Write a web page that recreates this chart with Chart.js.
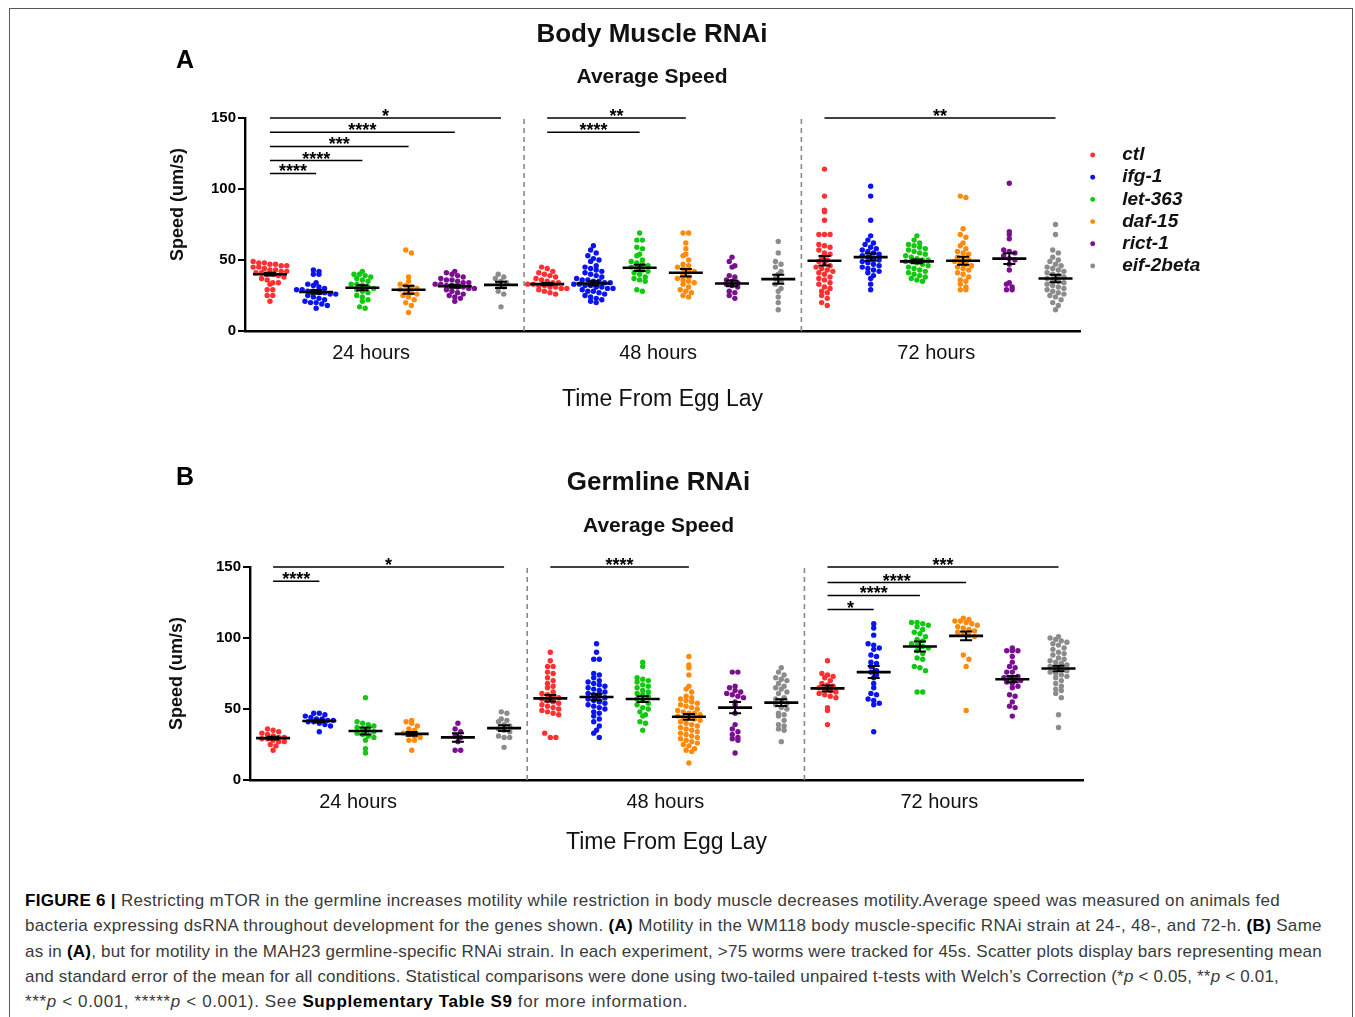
<!DOCTYPE html>
<html>
<head>
<meta charset="utf-8">
<script src="https://cdn.jsdelivr.net/npm/chart.js@4.4.1/dist/chart.umd.min.js"></script>
<style>
  html, body { margin: 0; padding: 0; background: #fff; }
  #page { position: relative; width: 1355px; height: 1017px; overflow: hidden; font-family: 'Liberation Sans', Arial, sans-serif; }
  #frame { position: absolute; left: 9px; top: 8px; width: 1344px; height: 1100px; border: 1px solid #5a5a5a; box-sizing: border-box; }
  canvas { position: absolute; left: 0; }
  #chartA { top: 0; }
  #chartB { top: 449px; }
  .panel-letter { position: absolute; left: 176px; font-weight: bold; font-size: 25px; line-height: 30px; color: #000; }
  #caption { position: absolute; left: 25px; top: 888px; font-size: 17px; line-height: 25.3px; color: #3a3a3a; }
  #caption .ln { display: block; width: max-content; white-space: nowrap; }
  #caption b { color: #000; }
</style>
</head>
<body>
<div id="page">
  <div id="frame"></div>
  <canvas id="chartA" width="1355" height="431"></canvas>
  <canvas id="chartB" width="1355" height="431"></canvas>
  <div class="panel-letter" style="top:44px">A</div>
  <div class="panel-letter" style="top:461px">B</div>
  <div id="caption">
    <span class="ln" data-w="1255"><b>FIGURE 6 |</b> Restricting mTOR in the germline increases motility while restriction in body muscle decreases motility.Average speed was measured on animals fed</span>
    <span class="ln" data-w="1297">bacteria expressing dsRNA throughout development for the genes shown. <b>(A)</b> Motility in the WM118 body muscle-specific RNAi strain at 24-, 48-, and 72-h. <b>(B)</b> Same</span>
    <span class="ln" data-w="1297">as in <b>(A)</b>, but for motility in the MAH23 germline-specific RNAi strain. In each experiment, &gt;75 worms were tracked for 45s. Scatter plots display bars representing mean</span>
    <span class="ln" data-w="1254">and standard error of the mean for all conditions. Statistical comparisons were done using two-tailed unpaired t-tests with Welch’s Correction (*<i>p</i> &lt; 0.05, **<i>p</i> &lt; 0.01,</span>
    <span class="ln" data-w="663">***<i>p</i> &lt; 0.001, *****<i>p</i> &lt; 0.001). See <b>Supplementary Table S9</b> for more information.</span>
  </div>
</div>
<script>
// ---- data ----
const genes = ['ctl', 'ifg-1', 'let-363', 'daf-15', 'rict-1', 'eif-2beta'];
const timeLabels = ['24 hours', '48 hours', '72 hours'];

// A: body muscle RNAi, speed (um/s) per worm at 24h / 48h / 72h
const muscleCtl = [
  [49, 48, 48, 47, 47, 46, 46, 45, 45, 44, 43, 43, 42, 42, 41, 41, 40, 40, 39, 38, 37, 36, 34, 34, 33, 29, 29, 25, 25, 21],
  [45, 44, 42, 41, 40, 39, 38, 37, 36, 35, 34, 34, 33, 33, 32, 32, 31, 31, 30, 30, 29, 28, 27, 26],
  [114, 95, 85, 84, 78, 68, 68, 68, 61, 60, 59, 57, 55, 54, 52, 50, 49, 48, 46, 45, 44, 43, 42, 41, 40, 38, 37, 36, 34, 33, 31, 30, 28, 27, 25, 23, 20, 18]
];
const muscleIfg1 = [
  [43, 42, 40, 40, 34, 33, 32, 31, 30, 29, 29, 28, 28, 27, 27, 26, 26, 25, 24, 23, 22, 21, 20, 20, 19, 18, 16],
  [60, 57, 55, 53, 51, 50, 49, 46, 45, 44, 43, 42, 41, 40, 39, 38, 37, 36, 36, 35, 35, 34, 34, 33, 33, 32, 32, 31, 31, 30, 30, 29, 28, 28, 27, 26, 25, 24, 23, 22, 21, 20],
  [102, 95, 78, 67, 64, 62, 61, 59, 58, 57, 56, 55, 54, 53, 52, 51, 50, 49, 48, 47, 46, 45, 44, 43, 42, 41, 39, 37, 33, 29]
];
const muscleLet363 = [
  [42, 40, 40, 39, 38, 37, 36, 35, 33, 33, 32, 31, 30, 29, 28, 27, 25, 24, 22, 21, 17, 16],
  [69, 64, 64, 59, 58, 54, 53, 50, 49, 48, 47, 46, 45, 44, 43, 42, 41, 40, 38, 37, 36, 35, 29, 28],
  [67, 64, 62, 61, 60, 59, 58, 57, 56, 55, 54, 53, 52, 51, 50, 50, 49, 49, 48, 47, 46, 45, 44, 43, 42, 41, 40, 39, 38, 37, 36, 35]
];
const muscleDaf15 = [
  [57, 55, 38, 35, 33, 32, 31, 30, 29, 28, 27, 26, 25, 24, 22, 20, 18, 13],
  [69, 69, 62, 58, 54, 53, 50, 47, 46, 45, 44, 43, 42, 40, 38, 37, 36, 35, 34, 33, 31, 29, 28, 27, 25, 24],
  [95, 94, 72, 68, 66, 62, 60, 58, 56, 55, 54, 52, 51, 50, 49, 48, 47, 46, 45, 44, 43, 41, 40, 38, 36, 35, 33, 31, 29, 29]
];
const muscleRict1 = [
  [42, 41, 40, 39, 38, 37, 36, 36, 35, 34, 34, 33, 33, 32, 32, 31, 31, 30, 30, 29, 28, 27, 26, 25, 24, 23, 21],
  [52, 49, 46, 45, 39, 38, 36, 35, 34, 33, 32, 31, 28, 27, 25, 23],
  [104, 70, 68, 65, 57, 56, 55, 53, 51, 50, 47, 43, 34, 33, 31, 29, 29]
];
const muscleEif2b = [
  [40, 38, 37, 35, 34, 33, 31, 28, 26, 17],
  [63, 55, 49, 47, 45, 42, 40, 37, 35, 33, 30, 28, 24, 20, 15],
  [75, 68, 57, 55, 52, 50, 49, 47, 46, 45, 44, 43, 42, 41, 40, 39, 38, 37, 36, 35, 34, 33, 32, 31, 30, 29, 28, 27, 26, 25, 24, 22, 20, 18, 15]
];
// mean and SEM per time point (rows) and gene (columns)
const muscleMean = [[40, 27.5, 30.5, 29, 31.5, 32.5], [33, 33.5, 44.5, 41, 33.5, 36.5], [49.5, 52, 49, 49.5, 51, 37]];
const muscleSem = [[1, 1.3, 1.8, 2.8, 1, 2.2], [0.8, 1.5, 2.2, 2.6, 2, 3.2], [3.3, 2.5, 1.3, 2.8, 3.8, 2.6]];
// [time block, from gene, to gene, bracket level, stars]
const muscleSig = [
  [0, 0, 5, 150, '*'], [0, 0, 4, 140, '****'], [0, 0, 3, 130, '***'], [0, 0, 2, 120, '****'], [0, 0, 1, 111, '****'],
  [1, 0, 3, 150, '**'], [1, 0, 2, 140, '****'],
  [2, 0, 5, 150, '**']
];

// B: germline RNAi
const germCtl = [
  [36, 35, 34, 33, 32, 31, 30, 30, 29, 29, 28, 27, 27, 25, 24, 21],
  [90, 84, 80, 80, 76, 75, 72, 70, 68, 66, 65, 62, 61, 60, 59, 58, 57, 56, 55, 54, 53, 52, 51, 50, 49, 48, 47, 46, 33, 30, 30],
  [84, 75, 74, 73, 72, 70, 68, 67, 66, 65, 64, 63, 62, 61, 60, 59, 58, 51, 49, 39]
];
const germIfg1 = [
  [47, 47, 46, 45, 44, 43, 43, 42, 42, 41, 41, 40, 39, 38, 34],
  [96, 90, 85, 85, 75, 74, 72, 70, 69, 68, 67, 66, 65, 64, 63, 62, 61, 60, 59, 58, 57, 56, 55, 54, 53, 52, 51, 50, 48, 47, 45, 43, 41, 38, 35, 33, 30],
  [110, 107, 102, 96, 95, 93, 92, 88, 87, 83, 82, 80, 77, 76, 74, 72, 68, 65, 61, 60, 57, 56, 54, 53, 34]
];
const germLet363 = [
  [58, 41, 40, 39, 38, 37, 36, 35, 34, 33, 32, 31, 30, 28, 22, 19],
  [83, 80, 72, 71, 70, 69, 67, 66, 65, 63, 62, 61, 60, 59, 57, 56, 54, 53, 51, 50, 48, 46, 45, 41, 40, 35],
  [111, 111, 110, 109, 108, 106, 104, 103, 101, 99, 98, 96, 95, 94, 93, 91, 89, 86, 85, 80, 79, 77, 62, 62]
];
const germDaf15 = [
  [42, 41, 40, 38, 36, 35, 33, 32, 31, 30, 28, 28, 21],
  [87, 81, 79, 74, 66, 64, 62, 59, 58, 57, 56, 55, 54, 53, 52, 51, 50, 49, 48, 47, 47, 46, 45, 44, 44, 43, 42, 41, 40, 39, 38, 37, 36, 35, 34, 33, 32, 31, 30, 29, 28, 27, 26, 25, 24, 22, 21, 20, 12],
  [114, 113, 112, 112, 111, 110, 109, 108, 107, 106, 105, 104, 103, 102, 101, 88, 85, 80, 49]
];
const germRict1 = [
  [40, 36, 34, 31, 30, 27, 21, 21],
  [76, 76, 66, 65, 63, 62, 61, 60, 59, 58, 55, 53, 47, 39, 36, 34, 32, 30, 29, 28, 19],
  [93, 91, 91, 91, 87, 83, 80, 79, 76, 76, 73, 72, 72, 71, 70, 69, 68, 66, 65, 60, 59, 55, 52, 51, 45]
];
const germEif2b = [
  [48, 47, 43, 42, 41, 39, 38, 36, 35, 34, 31, 30, 30, 23],
  [79, 76, 74, 72, 71, 70, 68, 66, 65, 64, 62, 61, 58, 57, 56, 54, 53, 51, 50, 47, 46, 45, 42, 39, 38, 36, 35, 27],
  [101, 100, 99, 98, 97, 96, 95, 93, 92, 90, 89, 88, 86, 85, 84, 83, 82, 81, 80, 79, 78, 77, 76, 75, 74, 73, 72, 70, 68, 66, 64, 63, 61, 58, 46, 37]
];
const germMean = [[29.5, 41.5, 34.5, 32.5, 30, 36.5], [57.5, 58.5, 57, 44.5, 51, 54.5], [64.5, 76, 94, 101.5, 71, 78.5]];
const germSem = [[1, 0.9, 2.5, 1.3, 3, 2], [2.3, 2.3, 2, 2, 4, 2.4], [2.1, 4.2, 3.5, 3, 2.2, 2]];
const germSig = [
  [0, 0, 5, 150, '*'], [0, 0, 1, 140, '****'],
  [1, 0, 3, 150, '****'],
  [2, 0, 5, 150, '***'], [2, 0, 3, 139, '****'], [2, 0, 2, 130, '****'], [2, 0, 1, 120, '*']
];

// ---- style ----
const geneColors = ['#ff3030', '#0a14f2', '#12c812', '#ff8a0c', '#7a1090', '#8c8c8c'];
Chart.defaults.font.family = "'Liberation Sans', Arial, sans-serif";
Chart.defaults.color = '#111';

// GraphPad-like scatter: values falling in the same row are spread sideways
const X_PX = 46.2, Y_PX = 1.42, GAP = 5.6;
function swarmOffsets(values) {
  const rows = values.map(v => Math.round(v * Y_PX / GAP));
  const counts = {};
  rows.forEach(r => { counts[r] = (counts[r] || 0) + 1; });
  const seen = {};
  return rows.map(r => {
    const k = seen[r] || 0;
    seen[r] = k + 1;
    return (k - (counts[r] - 1) / 2) * GAP / X_PX;
  });
}

function buildDatasets(series) {
  return genes.map((g, gi) => ({
    label: g,
    data: series[gi].flatMap((vals, block) => {
      const off = swarmOffsets(vals);
      return vals.map((v, k) => ({ x: block * 6 + gi + off[k], y: v }));
    }),
    backgroundColor: geneColors[gi],
    borderWidth: 0,
    pointRadius: 2.7,
    pointHoverRadius: 2.7
  }));
}

// mean / SEM bars, group separators and significance brackets
const statsPlugin = {
  id: 'stats',
  beforeDatasetsDraw(chart) {
    const { ctx, chartArea, scales: { x, y } } = chart;
    ctx.save();
    ctx.strokeStyle = '#8a8a8a';
    ctx.lineWidth = 1.6;
    ctx.setLineDash([5, 4]);
    [5.5, 11.5].forEach(v => {
      const px = x.getPixelForValue(v);
      ctx.beginPath();
      ctx.moveTo(px, chartArea.bottom);
      ctx.lineTo(px, y.getPixelForValue(151));
      ctx.stroke();
    });
    ctx.restore();
  },
  afterDatasetsDraw(chart, args, opts) {
    const { ctx, scales: { x, y } } = chart;
    ctx.save();
    ctx.strokeStyle = '#000';
    opts.means.forEach((row, b) => row.forEach((m, g) => {
      const cx = x.getPixelForValue(b * 6 + g);
      const s = opts.sems[b][g];
      const yt = y.getPixelForValue(m + s), yb = y.getPixelForValue(m - s), ym = y.getPixelForValue(m);
      ctx.lineWidth = 2.6;
      ctx.beginPath(); ctx.moveTo(cx - 17, ym); ctx.lineTo(cx + 17, ym); ctx.stroke();
      ctx.lineWidth = 2;
      ctx.beginPath();
      ctx.moveTo(cx, yt); ctx.lineTo(cx, yb);
      ctx.moveTo(cx - 6, yt); ctx.lineTo(cx + 6, yt);
      ctx.moveTo(cx - 6, yb); ctx.lineTo(cx + 6, yb);
      ctx.stroke();
    }));
    ctx.restore();
  },
  afterDraw(chart, args, opts) {
    const { ctx, scales: { x, y } } = chart;
    ctx.save();
    ctx.strokeStyle = '#000';
    ctx.fillStyle = '#000';
    ctx.lineWidth = 1.5;
    ctx.font = "bold 18px 'Liberation Sans', Arial, sans-serif";
    ctx.textAlign = 'center';
    ctx.textBaseline = 'alphabetic';
    opts.brackets.forEach(([b, from, to, level, stars]) => {
      const x1 = x.getPixelForValue(b * 6 + from), x2 = x.getPixelForValue(b * 6 + to);
      const py = y.getPixelForValue(level);
      ctx.beginPath(); ctx.moveTo(x1, py); ctx.lineTo(x2, py); ctx.stroke();
      ctx.fillText(stars, (x1 + x2) / 2, py + 4);
    });
    ctx.restore();
  }
};

// fixed legend width so both panels keep the same plot area
const legendBoxPlugin = {
  id: 'legendBox',
  beforeLayout(chart) {
    const legend = chart.legend;
    if (!legend || legend._fixedFit) return;
    const fit = legend.fit;
    legend.fit = function () {
      fit.call(this);
      this.width = chart.options.plugins.legendBox.width;
    };
    legend._fixedFit = true;
  }
};

function makePanel(id, p) {
  return new Chart(document.getElementById(id), {
    type: 'scatter',
    data: { datasets: buildDatasets(p.series) },
    plugins: [statsPlugin, legendBoxPlugin],
    options: {
      responsive: false,
      animation: false,
      events: [],
      layout: { padding: { left: p.padLeft, right: p.padRight, top: 0, bottom: 0 } },
      plugins: {
        title: {
          display: true, text: p.title, color: '#111',
          font: { size: 26, weight: 'bold' },
          padding: { top: p.titleTop, bottom: 0 }
        },
        subtitle: {
          display: true, text: 'Average Speed', color: '#111',
          font: { size: 21, weight: 'bold' },
          padding: { top: p.subTop, bottom: 28.4 }
        },
        legend: {
          display: true,
          position: 'right',
          align: 'start',
          fullSize: false,
          title: { display: p.showLegend, text: '', font: { size: 10 }, padding: { top: 12.3, bottom: 0 } },
          labels: {
            usePointStyle: true,
            boxWidth: 19,
            boxHeight: 3.5,
            padding: 3.2,
            color: '#111',
            font: { size: 19, weight: 'bold', style: 'italic' },
            filter: () => p.showLegend,
            generateLabels(chart) {
              const items = Chart.defaults.plugins.legend.labels.generateLabels(chart);
              items.forEach(it => { it.text = '  ' + it.text; it.lineWidth = 0; });
              return items;
            }
          }
        },
        tooltip: { enabled: false },
        legendBox: { width: p.legendWidth },
        stats: { means: p.means, sems: p.sems, brackets: p.brackets }
      },
      scales: {
        x: {
          type: 'linear',
          min: p.xMin, max: 17.53,
          afterFit(scale) { scale.height = 100; },
          afterBuildTicks(scale) { scale.ticks = p.tickPos.map(v => ({ value: v })); },
          grid: { display: false, drawTicks: false },
          border: { display: true, color: '#000', width: 2.6 },
          ticks: {
            autoSkip: false, maxRotation: 0, padding: 10, color: '#111',
            font: { size: 20 },
            callback: (v, i) => timeLabels[i]
          },
          title: {
            display: true, text: 'Time From Egg Lay', color: '#111',
            font: { size: 23 },
            padding: { top: 0, bottom: p.xTitleBottom }
          }
        },
        y: {
          min: 0, max: 150,
          afterFit(scale) { scale.width = p.yWidth; },
          grid: { drawOnChartArea: false, drawTicks: true, tickLength: 7, color: '#000', lineWidth: 2 },
          border: { display: true, color: '#000', width: 2.4 },
          ticks: { stepSize: 50, padding: 2, color: '#000', font: { size: 15, weight: 'bold' } },
          title: {
            display: true, text: p.yTitle, color: '#111',
            font: { size: 18, weight: 'bold' },
            padding: { top: p.yTitlePad, bottom: 0 }
          }
        }
      }
    }
  });
}

makePanel('chartA', {
  series: [muscleCtl, muscleIfg1, muscleLet363, muscleDaf15, muscleRict1, muscleEif2b],
  means: muscleMean, sems: muscleSem, brackets: muscleSig,
  title: 'Body Muscle RNAi', titleTop: 19.4, subTop: 13.8,
  padLeft: 100, yWidth: 145, padRight: 151, legendWidth: 124, showLegend: true,
  xMin: -0.54, tickPos: [2.19, 8.4, 14.42], xTitleBottom: 17.2,
  yTitle: '        Speed (um/s)', yTitlePad: 67.2
});

makePanel('chartB', {
  series: [germCtl, germIfg1, germLet363, germDaf15, germRict1, germEif2b],
  means: germMean, sems: germSem, brackets: germSig,
  title: 'Germline RNAi', titleTop: 18.4, subTop: 14.8,
  padLeft: 125, yWidth: 125, padRight: 163, legendWidth: 109, showLegend: false,
  xMin: -0.5, tickPos: [1.84, 8.49, 14.42], xTitleBottom: 23.2,
  yTitle: 'Speed (um/s)', yTitlePad: 41.7
});

// stretch each caption line to its measured width in the figure
document.querySelectorAll('#caption .ln').forEach(el => {
  const target = +el.dataset.w;
  const w = el.getBoundingClientRect().width;
  const n = el.textContent.length;
  el.style.letterSpacing = ((target - w) / n).toFixed(3) + 'px';
});
</script>
</body>
</html>
